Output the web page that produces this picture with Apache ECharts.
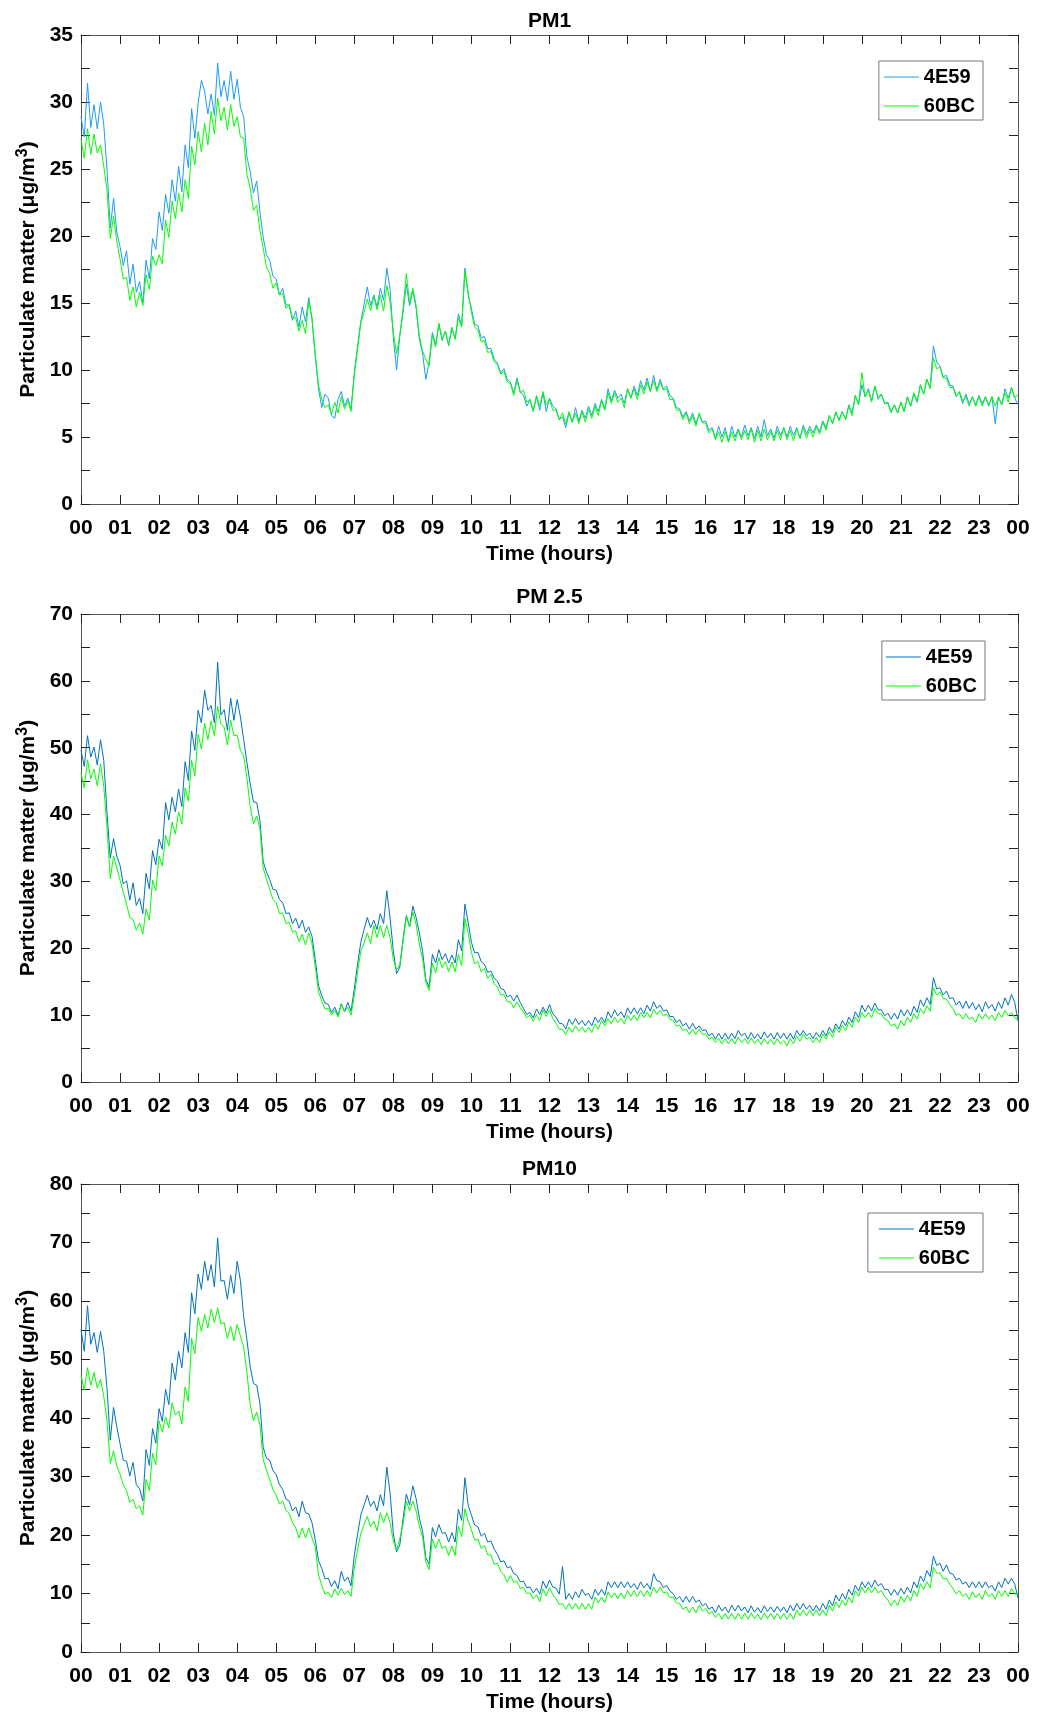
<!DOCTYPE html>
<html>
<head>
<meta charset="utf-8">
<script src="https://cdn.jsdelivr.net/npm/echarts@6/dist/echarts.min.js"></script>
<style>
html,body{margin:0;padding:0;background:#fff;}
#chart{width:1037px;height:1715px;}
</style>
</head>
<body>
<div id="chart"></div>
<script>
// ---- DATA (5-minute steps from 00:00 to 24:00) ----
const hourLabels = ['00','01','02','03','04','05','06','07','08','09','10','11','12','13','14','15','16','17','18','19','20','21','22','23','00'];
const titles = ['PM1', 'PM 2.5', 'PM10'];
const seriesNames = ['4E59', '60BC'];

const pm1_4E59 = [
28.9,27.4,31.4,28.1,29.8,28.0,30.0,28.3,25.0,20.6,22.8,20.3,
19.2,17.8,18.9,16.4,17.9,15.8,16.6,15.0,18.2,16.8,19.8,19.0,
21.8,20.4,23.1,21.7,24.2,22.6,25.2,23.3,26.8,25.1,29.5,27.3,
29.9,31.6,30.8,29.1,30.6,29.0,32.9,30.4,31.6,30.1,32.3,30.2,
31.7,29.6,28.9,25.9,24.8,23.2,24.1,21.8,19.9,18.6,18.2,17.0,
16.8,15.6,16.1,14.9,14.8,13.7,14.4,13.2,14.7,13.6,15.4,13.8,
11.0,8.6,7.2,8.2,7.9,6.6,6.4,7.8,8.4,7.3,7.9,7.1,
9.8,11.8,13.6,14.9,16.2,14.8,15.6,14.7,16.1,15.2,17.6,16.0,
12.4,10.0,12.6,14.3,16.4,14.8,15.9,14.6,12.3,11.2,9.3,10.6,
12.8,11.9,13.4,12.2,12.9,11.8,13.1,12.3,14.2,13.3,17.6,15.6,
14.6,13.4,13.3,12.4,12.5,11.6,11.6,10.8,10.5,9.8,10.1,9.3,
9.1,8.3,9.4,8.4,8.1,7.3,7.8,6.9,8.0,7.0,8.3,6.9,
7.9,7.3,7.1,6.3,6.5,5.7,6.8,6.1,7.2,6.2,7.0,6.4,
7.3,6.6,7.5,6.9,7.8,7.1,8.6,7.7,8.5,7.9,8.2,7.5,
8.6,7.9,8.8,8.1,9.2,8.5,9.4,8.4,9.6,8.5,9.3,8.6,
8.8,8.1,7.9,7.2,7.1,6.5,6.9,6.2,6.8,6.0,6.7,6.1,
6.2,5.5,5.7,4.9,5.8,5.0,5.7,4.7,5.8,5.0,5.6,5.0,
5.9,5.1,5.7,4.9,5.8,5.0,6.3,5.1,5.6,4.9,5.8,5.1,
5.7,5.0,5.8,5.1,5.7,4.9,5.9,5.2,5.8,5.3,5.9,5.4,
6.2,5.7,6.6,6.0,6.8,6.3,6.9,6.3,7.4,6.8,8.1,7.4,
8.9,8.0,8.6,7.7,8.8,7.8,8.2,7.5,7.6,6.9,7.4,6.8,
7.6,6.9,8.0,7.3,8.2,7.6,8.9,8.2,9.3,8.7,11.8,10.6,
10.3,9.5,9.6,8.9,8.8,8.1,8.3,7.5,8.2,7.5,8.0,7.4,
8.1,7.5,8.0,7.3,8.0,6.0,8.0,7.4,8.6,7.9,8.7,7.9,
7.4];

const pm1_60BC = [
27.2,25.8,28.0,26.1,27.6,26.2,26.8,25.2,23.4,19.8,21.5,19.6,
18.3,16.8,16.9,15.2,16.2,14.7,15.8,14.8,17.1,16.0,18.5,17.8,
18.6,17.9,21.2,19.9,22.6,21.3,23.2,21.8,24.2,22.8,26.7,25.3,
27.8,26.3,28.4,26.8,29.3,27.6,30.3,28.6,29.6,27.9,29.8,28.2,
28.9,27.4,27.3,24.6,23.6,21.9,22.3,20.4,19.1,17.7,17.2,16.1,
16.5,15.6,15.7,14.6,14.9,13.9,13.9,12.9,13.7,12.7,15.1,13.9,
11.2,8.9,7.8,7.2,7.4,6.7,7.6,6.8,8.0,7.1,7.7,6.9,
9.6,11.5,13.5,14.3,15.3,14.4,15.5,14.5,15.6,14.4,16.3,15.1,
12.8,11.2,12.6,14.6,17.2,15.0,16.1,14.8,12.5,11.4,10.8,10.3,
12.6,11.7,13.5,12.3,12.9,11.9,13.2,12.3,13.9,13.2,17.4,15.8,
14.3,13.2,13.0,12.1,12.2,11.3,11.4,10.6,10.4,9.7,9.9,9.1,
9.0,8.1,9.2,8.3,8.5,7.6,7.8,7.0,8.1,7.3,8.4,7.4,
7.8,7.0,7.0,6.3,6.8,6.0,6.9,6.1,6.8,6.0,6.9,6.1,
7.1,6.4,7.3,6.6,7.7,7.0,8.3,7.5,8.3,7.6,7.9,7.2,
8.6,7.9,8.6,7.8,8.9,8.2,9.1,8.4,9.2,8.4,9.1,8.5,
8.6,7.8,7.8,7.0,7.0,6.3,6.8,6.0,6.6,5.8,6.8,6.1,
6.0,5.3,5.6,4.8,5.4,4.6,5.4,4.6,5.4,4.7,5.5,4.8,
5.5,4.8,5.6,4.6,5.5,4.7,5.6,4.8,5.4,4.7,5.5,4.8,
5.7,4.8,5.5,4.7,5.6,4.9,5.7,4.9,5.6,5.0,5.8,5.2,
6.1,5.5,6.6,6.0,6.9,6.2,6.9,6.3,7.3,6.6,8.1,7.4,
9.8,8.0,8.5,7.6,8.8,8.0,8.2,7.5,7.5,6.8,7.4,6.8,
7.6,6.9,8.0,7.3,8.3,7.7,8.9,8.2,9.3,8.6,10.9,10.1,
10.2,9.4,9.4,8.7,8.7,8.0,8.4,7.7,8.0,7.3,8.0,7.3,
8.0,7.3,8.0,7.4,8.0,7.3,8.0,7.4,8.3,7.6,8.7,7.9,
8.2];

const pm25_4E59 = [
49.6,47.2,51.8,48.6,50.1,47.4,51.2,48.1,40.2,33.5,36.4,33.8,
32.4,29.6,30.1,27.2,29.8,26.4,27.5,25.2,31.2,28.9,34.6,32.5,
36.3,34.8,41.8,39.2,42.6,40.4,43.8,41.2,47.9,45.1,52.5,49.6,
55.6,53.7,58.6,55.6,56.3,53.7,62.8,54.9,55.7,52.6,57.4,54.1,
57.2,54.6,51.2,47.8,44.6,41.9,41.8,39.1,33.0,31.4,30.3,28.8,
28.7,27.3,26.8,25.2,25.3,23.7,24.5,23.0,24.2,22.4,23.2,21.8,
18.3,14.4,12.9,11.8,11.6,10.4,11.2,10.0,11.7,10.5,11.9,10.6,
13.9,17.6,20.9,22.8,24.6,23.1,24.2,22.8,25.2,23.7,28.6,24.5,
19.6,16.2,17.2,21.4,24.9,23.2,26.3,24.6,22.3,19.5,15.3,14.2,
19.1,17.8,19.8,18.3,19.2,17.8,19.0,17.8,21.3,19.6,26.6,23.9,
20.9,19.3,19.4,18.0,17.6,16.4,16.6,15.5,15.1,14.0,13.8,12.7,
13.0,12.1,13.0,11.9,11.0,10.1,10.4,9.6,10.9,10.1,11.2,10.3,
11.6,10.2,9.7,8.8,8.7,7.9,9.4,8.6,9.5,8.6,9.2,8.4,
9.2,8.4,9.7,8.9,9.7,8.9,10.5,9.6,10.8,9.9,10.5,9.6,
11.1,10.2,11.1,10.2,11.1,10.2,11.5,10.6,12.0,11.0,11.5,10.6,
10.8,9.8,9.8,8.9,9.3,8.4,8.8,7.9,8.8,7.9,8.4,7.7,
7.8,6.9,7.3,6.4,7.3,6.4,7.3,6.4,7.3,6.5,7.7,6.9,
7.3,6.4,7.4,6.5,7.2,6.4,7.5,6.6,7.3,6.4,7.4,6.5,
7.3,6.4,7.3,6.4,7.7,6.9,7.7,6.9,7.3,6.5,7.4,6.7,
7.7,6.9,8.2,7.4,8.7,7.9,9.2,8.4,9.7,8.9,10.5,9.6,
11.5,10.5,11.5,10.6,11.8,10.8,10.8,9.9,10.3,9.4,10.3,9.4,
10.8,9.9,10.8,9.9,11.3,10.4,12.3,11.3,12.6,11.6,15.6,13.9,
14.1,13.0,13.6,12.5,12.6,11.5,12.1,11.0,12.1,11.0,11.9,10.8,
11.6,10.5,12.0,11.0,11.6,10.6,12.0,11.0,12.6,11.5,13.1,11.9,
9.1];

const pm25_60BC = [
46.2,44.0,48.2,45.4,46.8,44.3,47.6,44.2,38.0,30.4,33.8,32.0,
30.2,28.4,26.6,24.6,24.3,22.7,23.8,22.1,25.9,24.2,30.2,28.6,
33.8,32.3,36.9,35.3,38.9,37.1,40.4,38.6,44.0,42.0,48.1,45.8,
52.0,49.8,53.7,51.2,54.0,51.8,56.2,53.6,53.1,50.4,54.1,51.8,
51.9,49.6,48.8,45.4,41.2,38.6,39.8,37.9,32.0,30.4,28.8,27.3,
26.8,25.2,25.3,23.7,23.9,22.4,22.6,21.0,22.1,20.5,22.3,20.7,
17.3,13.5,12.1,10.9,11.0,10.0,10.8,9.7,11.6,10.5,11.2,10.0,
12.9,16.3,19.6,20.8,22.3,20.7,23.4,21.6,23.4,21.6,23.4,21.6,
18.3,16.8,17.6,21.0,24.8,23.2,25.4,23.6,20.6,18.4,14.9,13.7,
17.8,16.3,18.6,17.1,18.0,16.5,18.0,16.5,19.1,17.4,24.5,22.3,
19.4,17.7,18.0,16.5,17.0,15.5,16.1,14.7,14.2,13.0,13.1,12.0,
12.0,11.1,12.0,11.1,10.5,9.6,10.0,9.1,10.1,9.2,10.8,9.8,
10.8,9.5,8.8,7.9,7.9,7.1,8.2,7.4,8.4,7.6,8.2,7.4,
8.2,7.4,8.7,7.9,9.2,8.4,9.5,8.7,9.7,8.9,9.5,8.7,
10.0,9.2,10.0,9.2,10.4,9.6,10.4,9.6,10.9,10.1,10.7,9.9,
10.2,9.4,9.2,8.4,8.5,7.7,7.9,7.1,7.9,7.1,7.9,7.1,
7.2,6.4,6.7,5.9,6.5,5.7,6.5,5.7,6.5,5.7,6.7,5.9,
6.5,5.7,6.6,5.8,6.4,5.6,6.5,5.7,6.4,5.6,6.5,5.7,
6.2,5.4,6.5,5.7,6.9,6.1,7.2,6.4,6.7,5.9,6.7,5.9,
7.2,6.4,7.5,6.7,8.2,7.4,8.5,7.7,9.0,8.2,9.7,8.9,
10.4,9.6,10.4,9.6,11.0,10.2,10.2,9.4,9.2,8.4,8.7,7.9,
9.2,8.4,9.7,8.9,10.2,9.4,11.0,10.2,11.4,10.6,14.1,13.0,
13.5,12.5,12.4,11.6,11.0,10.0,10.2,9.4,10.2,9.4,9.7,8.9,
10.2,9.4,10.2,9.4,10.0,9.2,10.4,9.6,10.7,9.9,10.4,9.6,
9.3];

const pm10_4E59 = [
55.2,51.4,59.2,52.6,54.6,51.2,54.8,51.4,45.0,36.2,41.8,38.5,
35.6,32.8,32.6,30.1,32.4,28.6,27.9,25.8,34.6,31.9,38.2,35.7,
41.6,39.4,44.9,42.3,49.4,46.5,51.4,48.6,54.6,51.2,61.4,57.8,
64.6,62.0,66.8,63.5,66.2,62.4,70.8,63.4,63.5,60.3,64.4,61.3,
66.8,63.5,57.3,53.4,48.8,45.9,45.6,42.5,35.0,33.1,32.8,31.0,
30.3,28.6,27.8,26.1,25.8,24.1,24.8,23.1,25.8,23.8,23.6,22.1,
19.2,15.6,14.3,12.5,12.6,11.2,12.2,10.8,13.8,12.1,12.8,11.3,
16.5,20.1,23.4,25.1,26.8,24.9,25.8,24.1,26.9,25.0,31.6,27.2,
20.2,17.1,18.3,22.8,27.0,25.1,28.4,26.2,22.9,20.6,16.1,15.0,
21.3,19.7,21.8,20.3,20.4,18.8,20.4,18.8,24.4,22.5,29.8,25.1,
23.4,21.7,21.4,19.8,20.3,18.8,19.0,17.6,16.7,15.4,15.6,14.4,
14.6,13.4,13.1,12.0,12.1,11.0,11.1,10.1,10.9,9.9,12.1,10.9,
12.3,11.1,10.9,9.9,14.6,9.0,10.0,9.0,10.3,9.3,10.7,9.7,
10.0,9.0,10.7,9.7,10.7,9.7,12.0,11.0,12.0,11.0,12.0,11.0,
12.0,11.0,11.7,10.7,12.0,11.0,11.7,10.7,13.4,12.2,12.0,11.0,
11.4,10.4,10.0,9.0,9.5,8.5,9.5,8.5,9.5,8.5,8.9,7.9,
8.3,7.3,7.7,6.7,8.0,7.0,7.7,6.7,8.0,7.0,8.0,7.0,
7.7,6.7,7.9,6.8,7.6,6.7,7.9,6.9,7.7,6.8,7.8,6.9,
7.7,6.7,8.0,7.0,8.3,7.3,8.3,7.3,8.0,7.0,8.0,7.0,
8.3,7.3,8.9,7.9,9.7,8.7,10.0,9.0,10.7,9.7,11.4,10.4,
12.0,11.0,12.0,11.0,12.3,11.3,11.7,10.7,10.7,9.7,10.7,9.7,
10.9,9.9,11.1,10.1,12.0,11.0,13.0,12.0,13.9,12.9,16.4,14.8,
15.2,13.8,14.9,13.5,13.3,12.3,12.6,11.6,12.0,11.0,12.0,11.0,
12.0,11.0,12.0,11.0,11.4,10.4,12.0,11.0,12.6,11.6,12.6,11.6,
9.2];

const pm10_60BC = [
47.3,44.8,48.6,45.6,47.8,45.1,46.6,43.7,39.5,32.2,34.4,31.8,
30.4,28.6,27.6,25.6,26.1,24.5,25.0,23.4,29.5,27.6,34.0,32.0,
39.5,37.6,40.2,38.3,42.6,40.5,41.2,39.0,45.3,42.8,53.6,51.0,
57.2,54.8,57.7,55.4,58.6,56.3,58.8,56.1,56.3,53.6,55.7,53.2,
56.0,54.0,52.1,47.8,42.3,39.5,41.0,38.8,32.9,31.1,29.5,27.8,
26.8,25.3,25.8,24.2,23.7,22.1,21.2,19.5,21.2,19.5,21.2,19.5,
18.0,13.2,11.4,9.9,10.2,9.3,10.8,9.7,10.9,9.8,10.5,9.5,
14.3,17.5,20.2,21.8,23.2,21.4,22.4,20.7,23.8,22.1,23.8,22.1,
19.0,17.4,19.4,21.9,25.8,24.1,25.8,24.1,21.5,19.7,15.4,14.1,
19.3,17.7,19.3,17.7,18.1,16.5,18.1,16.5,21.5,19.7,24.5,22.4,
20.9,19.1,19.3,17.7,18.2,16.6,16.6,15.0,15.2,13.8,13.2,11.9,
13.1,11.9,12.1,10.9,11.0,10.0,10.1,9.1,9.8,8.6,10.8,9.6,
11.0,9.8,9.1,8.1,8.3,7.3,8.3,7.3,8.3,7.3,8.3,7.3,
8.3,7.3,9.4,8.4,9.4,8.4,10.3,9.3,10.1,9.1,10.1,9.1,
10.5,9.5,10.5,9.5,10.5,9.5,10.5,9.5,11.1,10.1,11.1,10.1,
10.3,9.3,9.4,8.4,8.3,7.3,7.7,6.7,7.7,6.7,8.0,7.0,
7.5,6.5,6.9,5.9,6.6,5.6,6.6,5.6,6.6,5.6,6.6,5.6,
6.6,5.6,6.7,5.7,6.5,5.5,6.7,5.7,6.6,5.6,6.6,5.6,
6.6,5.6,6.6,5.6,7.2,6.2,7.2,6.2,7.2,6.2,7.2,6.2,
7.2,6.2,8.0,7.0,8.6,7.6,8.9,7.9,9.4,8.4,10.5,9.5,
11.1,10.1,11.1,10.1,11.1,10.1,10.5,9.5,8.9,7.9,8.9,7.9,
9.5,8.5,9.7,8.7,10.5,9.5,11.7,10.7,12.0,11.0,14.5,13.5,
13.5,12.5,12.6,11.6,10.9,9.9,10.5,9.5,10.0,9.0,10.3,9.3,
10.0,9.0,10.5,9.5,10.0,9.0,10.5,9.5,10.5,9.5,10.9,9.9,
10.0];

const yMax = [35, 70, 80];
const yInterval = [5, 10, 10];
const blueColors = ['#1e9cf5', '#0072bd', '#0072bd'];
const greenColor = '#00ff00';
const panels = [[pm1_4E59, pm1_60BC], [pm25_4E59, pm25_60BC], [pm10_4E59, pm10_60BC]];

// ---- LAYOUT ----
const FONT = '"Liberation Sans", Arial, sans-serif';
const gridTops = [35, 614, 1184];
const gridHeights = [469, 468, 468];
const gridLeft = 81, gridWidth = 937;
const titleY = [21, 597, 1169];
const legendPos = [
  {top: 61, right: 54, padding: [5, 8, 3, 5]},
  {top: 641, right: 52, padding: [5, 8, 3, 4]},
  {top: 1213, right: 54, padding: [5, 13, 3, 11]}
];

const chart = echarts.init(document.getElementById('chart'), null, {renderer: 'canvas'});

const axisLineStyle = {color: '#555', width: 1};
const tickStyle = {color: '#222', width: 1};
const labelStyle = {color: '#000', fontSize: 21, fontWeight: 'bold', fontFamily: FONT};

const grid = [], xAxis = [], yAxis = [], series = [], legend = [], graphic = [];

for (let g = 0; g < 3; g++) {
  grid.push({left: gridLeft, top: gridTops[g], width: gridWidth, height: gridHeights[g], containLabel: false});
  xAxis.push({
    gridIndex: g, type: 'value', min: 0, max: 1440, interval: 60, position: 'bottom',
    axisLine: {show: true, onZero: false, lineStyle: axisLineStyle},
    axisTick: {show: true, inside: true, length: 9, lineStyle: tickStyle},
    axisLabel: Object.assign({margin: 14, formatter: v => hourLabels[Math.round(v / 60)]}, labelStyle),
    splitLine: {show: false},
    name: 'Time (hours)', nameLocation: 'middle', nameGap: 40,
    nameTextStyle: {color: '#000', fontSize: 21, fontWeight: 'bold', fontFamily: FONT}
  });
  xAxis.push({
    gridIndex: g, type: 'value', min: 0, max: 1440, interval: 60, position: 'top',
    axisLine: {show: true, onZero: false, lineStyle: axisLineStyle},
    axisTick: {show: true, inside: true, length: 9, lineStyle: tickStyle},
    axisLabel: {show: false}, splitLine: {show: false}
  });
  yAxis.push({
    gridIndex: g, type: 'value', min: 0, max: yMax[g], interval: yInterval[g], position: 'left',
    axisLine: {show: true, onZero: false, lineStyle: axisLineStyle},
    axisTick: {show: true, inside: true, length: 9, lineStyle: tickStyle},
    minorTick: {show: true, splitNumber: 2, length: 9, lineStyle: tickStyle},
    axisLabel: Object.assign({margin: 8}, labelStyle),
    splitLine: {show: false}, minorSplitLine: {show: false},
    name: '{n|Particulate matter (μg/m}{s|3}{n|)}', nameLocation: 'middle', nameGap: 40,
    nameTextStyle: {
      color: '#000', fontSize: 21, fontWeight: 'bold', fontFamily: FONT,
      rich: {
        n: {color: '#000', fontSize: 21, fontWeight: 'bold', fontFamily: FONT, lineHeight: 26},
        s: {color: '#000', fontSize: 16, fontWeight: 'bold', fontFamily: FONT, verticalAlign: 'top', lineHeight: 26}
      }
    }
  });
  yAxis.push({
    gridIndex: g, type: 'value', min: 0, max: yMax[g], interval: yInterval[g], position: 'right',
    axisLine: {show: true, onZero: false, lineStyle: axisLineStyle},
    axisTick: {show: true, inside: true, length: 9, lineStyle: tickStyle},
    minorTick: {show: true, splitNumber: 2, length: 9, lineStyle: tickStyle},
    axisLabel: {show: false}, splitLine: {show: false}, minorSplitLine: {show: false}
  });

  const colors = [blueColors[g], greenColor];
  for (let s = 0; s < 2; s++) {
    const vals = panels[g][s];
    series.push({
      type: 'line', name: seriesNames[s],
      xAxisIndex: g * 2, yAxisIndex: g * 2,
      data: vals.map((v, i) => [i * 5, v]),
      symbol: 'none', showSymbol: false, sampling: null,
      lineStyle: {width: 1, color: colors[s]}, itemStyle: {color: colors[s]},
      animation: false, silent: true, z: 2 + s
    });
  }

  legend.push(Object.assign({
    orient: 'vertical', icon: 'rect', itemWidth: 35, itemHeight: 1, itemGap: 7,
    borderColor: '#777', borderWidth: 1, backgroundColor: '#fff', selectedMode: false,
    textStyle: {color: '#000', fontSize: 20, fontWeight: 'bold', fontFamily: FONT, lineHeight: 22},
    data: [
      {name: seriesNames[0], itemStyle: {color: colors[0]}, lineStyle: {color: colors[0]}},
      {name: seriesNames[1], itemStyle: {color: colors[1]}, lineStyle: {color: colors[1]}}
    ]
  }, legendPos[g]));

  graphic.push({
    type: 'text', x: gridLeft + gridWidth / 2, y: titleY[g], silent: true,
    style: {text: titles[g], align: 'center', verticalAlign: 'middle', fill: '#000',
            font: 'bold 21px "Liberation Sans", Arial, sans-serif'}
  });
}

chart.setOption({
  backgroundColor: '#fff',
  animation: false,
  grid, xAxis, yAxis, series, legend, graphic
});
</script>
</body>
</html>
